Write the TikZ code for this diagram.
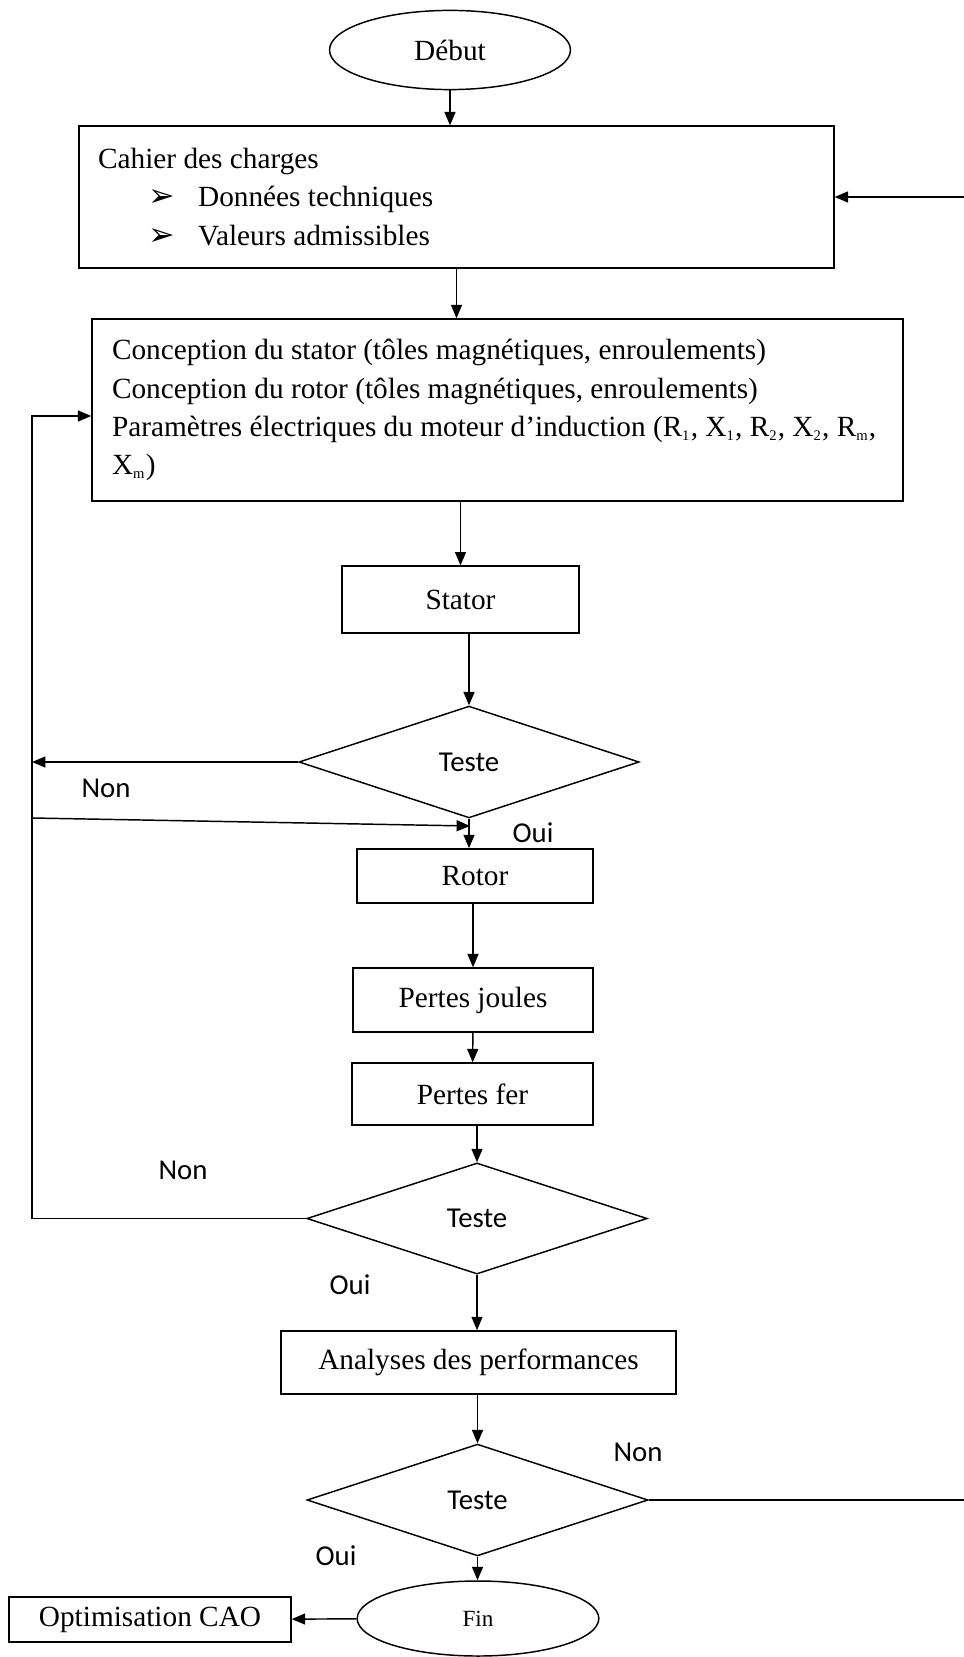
\documentclass[tikz,border=0pt]{standalone}
\usepackage{fontspec}
\setmainfont{Liberation Serif}
\newfontfamily\labelfont{Carlito}
\newfontfamily\bulletfont{DejaVu Sans}
\usetikzlibrary{arrows.meta,shapes.geometric}
\newcommand{\puce}{\hspace*{7.2mm}\makebox[7.2mm][l]{\bulletfont\fontsize{13}{12}\selectfont ➢}}
\newcommand{\ind}[1]{\textsubscript{\fontsize{6}{6}\selectfont #1}}

\begin{document}
\begin{tikzpicture}[
  x=0.144mm, y=-0.144mm,
  >={Triangle[length=5.5pt,width=4.5pt]},
  % Styles
  box/.style={draw, line width=0.6pt, rectangle, inner sep=0pt, align=center,
    font=\fontsize{12}{15.6}\selectfont},
  listbox/.style={box, align=left, execute at begin node={\spaceskip=0pt\xspaceskip=0pt}},
  terminal/.style={draw, line width=0.6pt, ellipse, inner sep=0pt,
    font=\fontsize{12}{15.6}\selectfont},
  decision/.style={draw, line width=0.6pt, diamond, inner sep=0pt,
    font=\labelfont\fontsize{11.8}{13}\selectfont},
  tlabel/.style={font=\labelfont\fontsize{11.8}{13}\selectfont},
  arrow/.style={->, line width=0.6pt},
]
\useasboundingbox (0,0) rectangle (963,1657);

% === Start and specification ===
\node[terminal, minimum width=34.7mm, minimum height=11.4mm] (debut) at (450,50) {Début};
\node[listbox, text width=103.2mm, inner xsep=2.74mm, minimum height=20.4mm] (cahier) at (456.5,197) {
  Cahier des charges\\
  \puce Données techniques\\
  \puce Valeurs admissibles
};

% === Design ===
\node[listbox, text width=111mm, inner xsep=2.88mm, minimum height=26.2mm] (conception) at (497.5,410) {
  Conception du stator (tôles magnétiques, enroulements)\\
  Conception du rotor (tôles magnétiques, enroulements)\\
  \mbox{Paramètres électriques du moteur d'induction (R\ind{1}, X\ind{1}, R\ind{2}, X\ind{2}, R\ind{m},}\\
  X\ind{m})
};
\node[box, minimum width=34.1mm, minimum height=9.6mm] (stator) at (460.5,599.5) {Stator};
\node[decision, minimum width=49mm, minimum height=16.1mm] (test1) at (469,762) {Teste};
\node[box, minimum width=34mm, minimum height=7.8mm] (rotor) at (475,876) {Rotor};
\node[box, minimum width=34.6mm, minimum height=9.2mm] (joules) at (473,1000) {Pertes joules};
\node[box, minimum width=34.7mm, minimum height=8.9mm] (fer) at (472.5,1094) {Pertes fer};
\node[decision, minimum width=49mm, minimum height=16mm] (test2) at (477,1218.5) {Teste};

% === Performances and end ===
\node[box, minimum width=56.9mm, minimum height=9.1mm] (analyses) at (478.5,1362.5) {Analyses des performances};
\node[decision, minimum width=49.1mm, minimum height=16.1mm] (test3) at (477.5,1500) {Teste};
\node[terminal, minimum width=34.8mm, minimum height=10.8mm, font=\fontsize{9.5}{11}\selectfont] (fin) at (478,1618.5) {Fin};
\node[box, minimum width=40.6mm, minimum height=6.5mm] (optim) at (150,1619.5) {Optimisation CAO};

% === Labels ===
\node[tlabel] (non1) at (106,788) {Non};
\node[tlabel] (oui1) at (533,833) {Oui};
\node[tlabel] (non2) at (183,1170) {Non};
\node[tlabel] (oui2) at (350,1285) {Oui};
\node[tlabel] (non3) at (638,1452) {Non};
\node[tlabel] (oui3) at (336,1556) {Oui};

% === Loop points ===
\coordinate (loopnon1) at (32,762);
\coordinate (loopnon2) at (32,1218.5);
\coordinate (looptop) at (32,416);
\coordinate (loopoui) at (32,818);
\coordinate (joinrotor) at (470,826);
\coordinate (retour) at (972,197);

% === Arrows ===
\draw[arrow] (debut) -- (cahier.north -| debut);
\draw[arrow] (cahier) -- (cahier.south |- conception.north);
\draw[arrow] (conception.south -| stator) -- (stator);
\draw[arrow] (test1.north |- stator.south) -- (test1.north);
\draw[arrow] (test1.west) -- (loopnon1);
\draw[arrow] (test2.west) -- (loopnon2) -- (looptop) -- (looptop -| conception.west);
\draw[arrow] (loopoui) -- (joinrotor);
\draw[arrow] (test1.south) -- (test1.south |- rotor.north);
\draw[arrow] (rotor.south -| joules) -- (joules.north);
\draw[arrow] (joules) -- (fer);
\draw[arrow] (fer.south -| test2) -- (test2.north);
\draw[arrow] (test2.south) -- (test2.south |- analyses.north);
\draw[arrow] (analyses.south -| test3) -- (test3.north);
\draw[arrow] (test3.south) -- (test3.south |- fin.north);
\draw[arrow] (fin) -- (optim);
\draw[arrow] (test3.east) -| (retour) -- (cahier.east);

\end{tikzpicture}
\end{document}
